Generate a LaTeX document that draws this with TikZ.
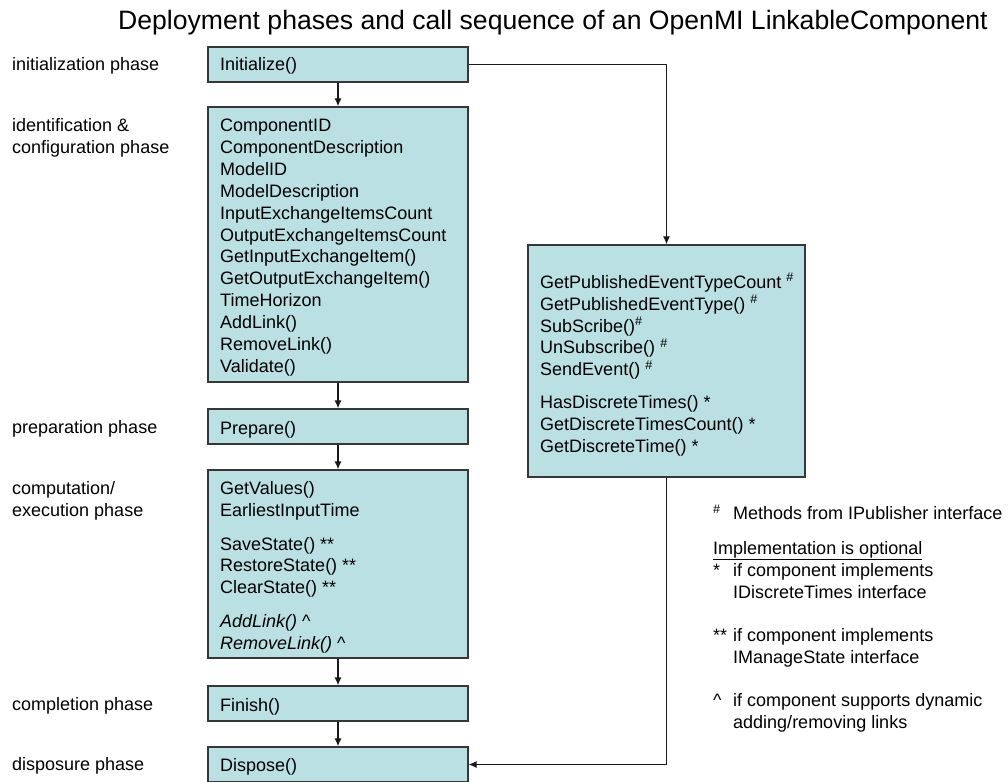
\documentclass[tikz,border=0pt]{standalone}
\usepackage{fontspec}
\setmainfont{Liberation Sans}
\usetikzlibrary{arrows.meta}
\definecolor{boxfill}{RGB}{187,224,227}
\definecolor{boxline}{RGB}{55,55,55}
\definecolor{conline}{RGB}{25,25,25}
\newcommand\boxlines[1]{\begin{tabular}[t]{@{}l@{}}#1\end{tabular}}
\begin{document}
\begin{tikzpicture}[x=1pt,y=-1pt,
  phase/.style={draw=boxline,line width=1.3pt,fill=boxfill,rectangle,inner sep=0pt},
  txt/.style={anchor=base west,inner sep=0pt,font=\fontsize{18}{21.9}\selectfont},
  flow/.style={draw=conline,line width=1.2pt,-{Latex[length=8pt,width=7pt]}}
  ]
\useasboundingbox (0,0) rectangle (1008,781);
% title
\node[anchor=base west,inner sep=0pt,font=\fontsize{26.6}{32}\selectfont] (title) at (118,29.5)
  {Deployment phases and call sequence of an OpenMI LinkableComponent};
% boxes
\node[phase,minimum width=260pt,minimum height=35pt] (init) at (338,64.5) {};
\node[phase,minimum width=260pt,minimum height=275pt] (ident) at (338,244.5) {};
\node[phase,minimum width=260pt,minimum height=35pt] (prep) at (338,426.5) {};
\node[phase,minimum width=260pt,minimum height=188pt] (comp) at (338,564) {};
\node[phase,minimum width=260pt,minimum height=35pt] (finish) at (338,703.5) {};
\node[phase,minimum width=260pt,minimum height=35pt] (dispose) at (338,764.5) {};
\node[phase,minimum width=277pt,minimum height=232pt] (pub) at (666.5,361) {};
% box texts
\node[txt] (tinit) at (220,71) {Initialize()};
\node[txt] (tident) at (220,131.5) {\boxlines{ComponentID\\ComponentDescription\\ModelID\\ModelDescription\\InputExchangeItemsCount\\OutputExchangeItemsCount\\GetInputExchangeItem()\\GetOutputExchangeItem()\\TimeHorizon\\AddLink()\\RemoveLink()\\Validate()}};
\node[txt] (tprep) at (220,434.8) {Prepare()};
\node[txt] (tcomp) at (220,494.8) {\boxlines{GetValues()\\EarliestInputTime\\[11.4pt]SaveState() **\\RestoreState() **\\ClearState() **\\[11.4pt]\textit{AddLink()} \textasciicircum\\\textit{RemoveLink()} \textasciicircum}};
\node[txt] (tfinish) at (220,711.5) {Finish()};
\node[txt] (tdispose) at (220,771.5) {Dispose()};
\node[txt] (tpub) at (540,288.2) {\boxlines{GetPublishedEventTypeCount \textsuperscript{\#}\\GetPublishedEventType() \textsuperscript{\#}\\SubScribe()\textsuperscript{\#}\\UnSubscribe() \textsuperscript{\#}\\SendEvent() \textsuperscript{\#}\\[10.5pt]HasDiscreteTimes() *\\GetDiscreteTimesCount() *\\GetDiscreteTime() *}};
% phase labels
\node[txt] (linit) at (12,71) {initialization phase};
\node[txt] (lident) at (12,131.5) {\boxlines{identification \&\\configuration phase}};
\node[txt] (lprep) at (12,433.2) {preparation phase};
\node[txt] (lcomp) at (12,494.8) {\boxlines{computation/\\execution phase}};
\node[txt] (lfinish) at (12,710.5) {completion phase};
\node[txt] (ldispose) at (12,770.8) {disposure phase};
% legend
\node[txt] (kpub) at (713,519.5) {\textsuperscript{\#}};
\node[txt] (kpubt) at (733,519.5) {Methods from IPublisher interface};
\node[txt] (kimpl) at (713,554.5) {\underline{Implementation is optional}};
\node[txt] (kdt) at (713,576.5) {*};
\node[txt] (kdtt) at (733,576.5) {\boxlines{if component implements\\IDiscreteTimes interface}};
\node[txt] (kms) at (713,641.5) {**};
\node[txt] (kmst) at (733,641.5) {\boxlines{if component implements\\IManageState interface}};
\node[txt] (kdl) at (713,706.5) {\textasciicircum};
\node[txt] (kdlt) at (733,706.5) {\boxlines{if component supports dynamic\\adding/removing links}};
% connectors
\draw[flow] (init.south) -- (ident.north);
\draw[flow] (ident.south) -- (prep.north);
\draw[flow] (prep.south) -- (comp.north);
\draw[flow] (comp.south) -- (finish.north);
\draw[flow] (finish.south) -- (dispose.north);
\draw[flow] (init.east) -| (pub.north);
\draw[flow] (pub.south) |- (dispose.east);
\end{tikzpicture}
\end{document}
